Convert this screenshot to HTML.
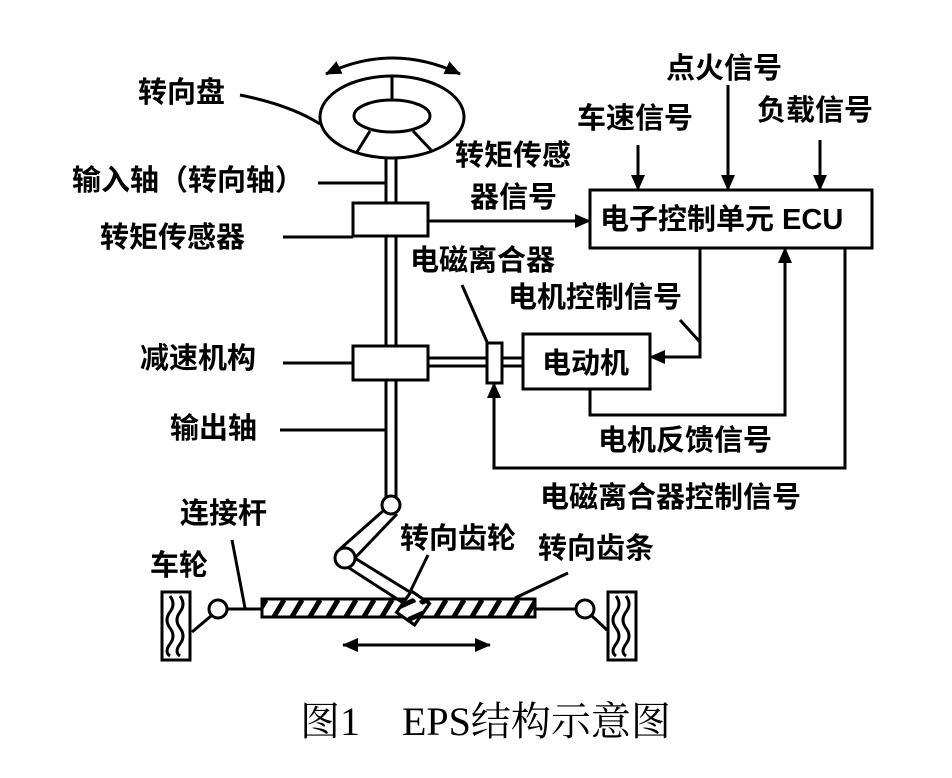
<!DOCTYPE html>
<html><head><meta charset="utf-8"><style>
html,body{margin:0;padding:0;background:#fff;}
svg{display:block}
text{font-family:"Liberation Sans","Noto Sans CJK SC",sans-serif;font-weight:bold;font-size:29px;fill:#000}
</style></head><body>
<svg width="952" height="778" viewBox="0 0 952 778" xmlns="http://www.w3.org/2000/svg">
<defs>
<marker id="b" markerWidth="16" markerHeight="14" refX="15" refY="7" orient="auto-start-reverse" markerUnits="userSpaceOnUse"><path d="M0,0 L16,7 L0,14 z" fill="#000"/></marker>
<pattern id="h" width="18" height="20" patternUnits="userSpaceOnUse"><path d="M2,20 L14,0" stroke="#000" stroke-width="5"/></pattern>
</defs>
<g fill="none" stroke="#000" stroke-width="3">
<path d="M326,74 Q392,42 460,74" marker-start="url(#b)" marker-end="url(#b)"/>
<ellipse cx="392" cy="117" rx="72" ry="41"/>
<ellipse cx="392" cy="116" rx="38" ry="16"/>
<line x1="392" y1="76" x2="392" y2="100"/>
<line x1="370" y1="131" x2="357" y2="152"/>
<line x1="413" y1="131" x2="431" y2="150"/>
<line x1="386" y1="158" x2="386" y2="498"/>
<line x1="396" y1="158" x2="396" y2="498"/>
<rect x="353" y="203" width="75" height="33" fill="#fff"/>
<rect x="353" y="346" width="75" height="34" fill="#fff"/>
<line x1="428" y1="358" x2="487" y2="358"/>
<line x1="428" y1="366" x2="487" y2="366"/>
<rect x="487" y="343" width="15" height="40" fill="#fff"/>
<line x1="502" y1="358" x2="523" y2="358"/>
<line x1="502" y1="366" x2="523" y2="366"/>
<rect x="523" y="334" width="127" height="55"/>
<rect x="590" y="190" width="282" height="58"/>
<line x1="428" y1="221" x2="590" y2="221" marker-end="url(#b)"/>
<line x1="638" y1="145" x2="638" y2="190" marker-end="url(#b)"/>
<line x1="728" y1="85" x2="728" y2="190" marker-end="url(#b)"/>
<line x1="820" y1="140" x2="820" y2="190" marker-end="url(#b)"/>
<polyline points="700,248 700,357 650,357" marker-end="url(#b)"/>
<line x1="680" y1="320" x2="700" y2="342"/>
<polyline points="590,389 590,415 785,415 785,248" marker-end="url(#b)"/>
<polyline points="845,248 845,468 494,468 494,383" marker-end="url(#b)"/>
<path d="M240,95 Q290,105 320,124"/>
<line x1="318" y1="183" x2="385" y2="183"/>
<line x1="283" y1="237" x2="353" y2="237"/>
<line x1="283" y1="363" x2="353" y2="363"/>
<line x1="280" y1="430" x2="385" y2="430"/>
<line x1="462" y1="285" x2="487" y2="342"/>
<circle cx="391" cy="505" r="9" fill="#fff"/>
<path d="M383,511 L340,549 M397,514 L353,560"/>
<path d="M353,557 L418,597 M346,566 L408,606"/>
<circle cx="345" cy="558" r="10" fill="#fff"/>
<rect x="262" y="599" width="273" height="18" fill="url(#h)"/>
<rect x="262" y="599" width="273" height="18"/>
<rect x="402" y="595" width="22" height="26" fill="#fff" transform="rotate(35 413 608)"/>
<rect x="402" y="595" width="22" height="26" fill="url(#h)" transform="rotate(35 413 608)"/>
<line x1="428" y1="555" x2="410" y2="592"/>
<line x1="568" y1="573" x2="515" y2="598"/>
<line x1="228" y1="609" x2="262" y2="609"/>
<circle cx="218" cy="609" r="9" fill="#fff"/>
<line x1="211" y1="616" x2="192" y2="632"/>
<rect x="162" y="592" width="28" height="68"/>
<path d="M170,596 q6,8 0,16 q-6,8 0,16 q6,8 0,16 q-6,8 0,12 M180,596 q6,8 0,16 q-6,8 0,16 q6,8 0,16 q-6,8 0,12"/>
<line x1="535" y1="609" x2="576" y2="609"/>
<circle cx="585" cy="609" r="9" fill="#fff"/>
<line x1="592" y1="616" x2="607" y2="630"/>
<rect x="608" y="592" width="28" height="68"/>
<path d="M616,596 q6,8 0,16 q-6,8 0,16 q6,8 0,16 q-6,8 0,12 M626,596 q6,8 0,16 q-6,8 0,16 q6,8 0,16 q-6,8 0,12"/>
<line x1="232" y1="540" x2="245" y2="608"/>
<line x1="343" y1="645" x2="490" y2="645" marker-start="url(#b)" marker-end="url(#b)"/>
</g>
<text x="138" y="102">转向盘</text>
<text x="72" y="190">输入轴（转向轴）</text>
<text x="100" y="247">转矩传感器</text>
<text x="140" y="368">减速机构</text>
<text x="170" y="438">输出轴</text>
<text x="455" y="165">转矩传感</text>
<text x="470" y="207">器信号</text>
<text x="666" y="78">点火信号</text>
<text x="577" y="128">车速信号</text>
<text x="757" y="120">负载信号</text>
<text x="600" y="229" font-size="28">电子控制单元 ECU</text>
<text x="410" y="270">电磁离合器</text>
<text x="508" y="307">电机控制信号</text>
<text x="542" y="373">电动机</text>
<text x="598" y="450">电机反馈信号</text>
<text x="540" y="507">电磁离合器控制信号</text>
<text x="180" y="523">连接杆</text>
<text x="400" y="548">转向齿轮</text>
<text x="538" y="558">转向齿条</text>
<text x="150" y="575">车轮</text>
<text x="300" y="735" style="font-family:'Liberation Serif','Noto Serif CJK SC',serif;font-weight:normal;font-size:40px">图1</text>
<text x="402" y="735" style="font-family:'Liberation Serif','Noto Serif CJK SC',serif;font-weight:normal;font-size:40px">EPS结构示意图</text>
</svg>
</body></html>
